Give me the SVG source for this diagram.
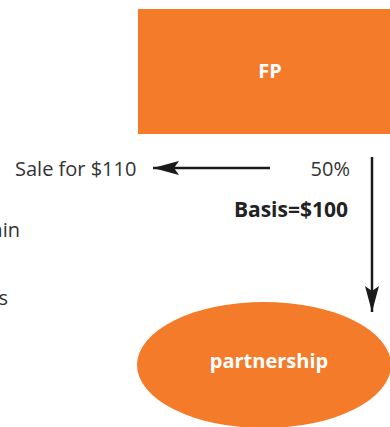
<svg xmlns="http://www.w3.org/2000/svg" width="390" height="427" viewBox="0 0 390 427">
<style>
.node{fill:#F47B2A}
.nl{font-family:"Open Sans","DejaVu Sans",sans-serif;font-weight:bold;font-size:20px;fill:#fff;text-anchor:middle}
.t{font-family:"Open Sans","DejaVu Sans",sans-serif;font-size:20px;fill:#333}
.b{font-weight:bold;fill:#222;font-size:21px}
.c{stroke:#1a1a1a;stroke-width:2.5;fill:none}
</style>
<defs>
<marker id="ah" viewBox="0 0 26 14" refX="26" refY="7" markerWidth="26" markerHeight="14" markerUnits="userSpaceOnUse" orient="auto">
<path d="M0,0 L26,7 L0,14 L5,7 Z" fill="#1a1a1a"/>
</marker>
</defs>
<rect width="390" height="427" fill="#fff"/>
<g id="fp"><rect class="node" x="138" y="9" width="252" height="125"/><text class="nl" x="270" y="78">FP</text></g>
<g id="partnership"><ellipse class="node" cx="264" cy="365" rx="127" ry="63"/><text class="nl" x="269" y="368">partnership</text></g>
<g id="connectors">
<line class="c" x1="270" y1="168" x2="153" y2="168" marker-end="url(#ah)"/>
<line class="c" x1="372" y1="157" x2="372" y2="312" marker-end="url(#ah)"/>
</g>
<g id="labels">
<text class="t" x="15" y="176">Sale for $110</text>
<text class="t" x="350" y="176" text-anchor="end">50%</text>
<text class="t b" x="348" y="217" text-anchor="end">Basis=$100</text>
<text class="t" x="20" y="237" text-anchor="end">ain</text>
<text class="t" x="8" y="305" text-anchor="end">s</text>
</g>
</svg>
